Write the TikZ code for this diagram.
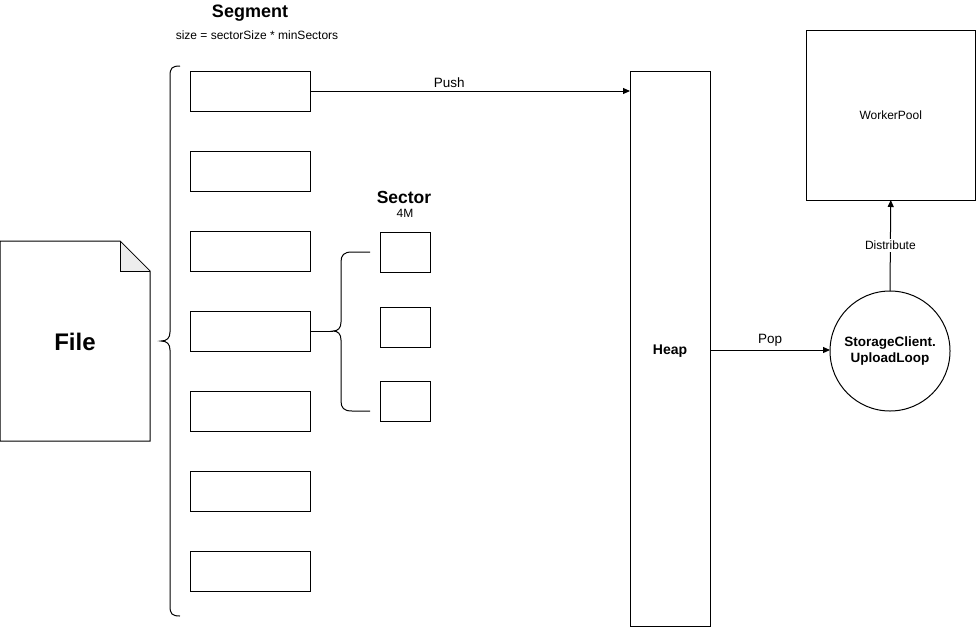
\documentclass[tikz,border=0pt]{standalone}
\usepackage{fontspec}
\setmainfont{Liberation Sans}
\usetikzlibrary{arrows.meta}
\begin{document}
\begin{tikzpicture}[x=1pt,y=-1pt,line width=1pt,
  box/.style={draw,inner sep=0pt,outer sep=0pt,minimum width=120pt,minimum height=40pt},
  secbox/.style={draw,inner sep=0pt,outer sep=0pt,minimum width=50pt,minimum height=40pt},
  lbl/.style={font=\fontsize{12}{14}\selectfont,inner sep=1pt},
  elbl/.style={font=\fontsize{13.5}{16}\selectfont,inner sep=1pt},
  arr/.style={-{Triangle[length=7pt,width=6pt]}}]
\useasboundingbox (0,0) rectangle (976,627);
% Titles
\node[font=\fontsize{18}{20}\selectfont\bfseries] (segt) at (250,13) {Segment};
\node[lbl] (segsub) at (257,35) {size = sectorSize * minSectors};
\node[font=\fontsize{17.5}{20}\selectfont\bfseries] (sect) at (404,197) {Sector};
\node[lbl] (secsub) at (405,213) {4M};
% Segment boxes
\foreach \i/\y in {1/91,2/171,3/251,4/331,5/411,6/491,7/571}
  \node[box] (s\i) at (250,\y) {};
% big brace
\coordinate (btip) at (161,341);
\draw (180,66) .. controls (172,66) and (170,68) .. (170,76) -- (170,332)
      .. controls (170,338) and (167,341) .. (btip)
      .. controls (167,341) and (170,344) .. (170,350) -- (170,606)
      .. controls (170,614) and (172,616) .. (180,616);
% File document
\draw[fill=white] (0,241) -- (120,241) -- (150,271) -- (150,441) -- (0,441) -- cycle;
\draw[fill=black!7] (120,241) -- (120,271) -- (150,271);
\draw[line width=0.5pt] (120,241) -- (150,271);
\node[font=\fontsize{24}{28}\selectfont\bfseries] (file) at (75,342) {File};
% Sector boxes
\node[secbox] (c1) at (405,252) {};
\node[secbox] (c2) at (405,327) {};
\node[secbox] (c3) at (405,401) {};
% sector brace
\coordinate (stip) at (333,331);
\draw (370,252) -- (352,252) .. controls (344,252) and (341,255) .. (341,262) -- (341,322)
      .. controls (341,328) and (338,331) .. (stip)
      .. controls (338,331) and (341,334) .. (341,340) -- (341,401)
      .. controls (341,408) and (344,411) .. (352,411) -- (370,411);
\draw (s4.east) -- (stip);
% Heap
\node[draw,inner sep=0pt,outer sep=0pt,minimum width=80pt,minimum height=555pt] (heap) at (670,348.5) {};
\node[font=\fontsize{14}{16}\selectfont\bfseries] (heapl) at (670,351) {Heap};
% Upload loop circle
\node[draw,circle,inner sep=0pt,outer sep=0pt,minimum size=120pt,align=center,
      font=\fontsize{13.5}{16.5}\selectfont\bfseries] (uc) at (890,351) {StorageClient.\\UploadLoop};
% WorkerPool
\node[draw,inner sep=0pt,outer sep=0pt,minimum width=169.5pt,minimum height=170pt,lbl] (wp) at (890.75,115) {WorkerPool};
% Arrows
\draw[arr] (s1.east) -- (heap.west |- s1.east) node[elbl,pos=0.435,above=2pt] (pushl) {Push};
\draw[arr] (heap.east |- 0,350) -- (uc.west |- 0,350) node[elbl,midway,above=2pt] (popl) {Pop};
\draw[arr] (uc.north) -- (wp.south) node[lbl,midway,fill=white,inner sep=2pt] (distl) {Distribute};
\end{tikzpicture}
\end{document}
